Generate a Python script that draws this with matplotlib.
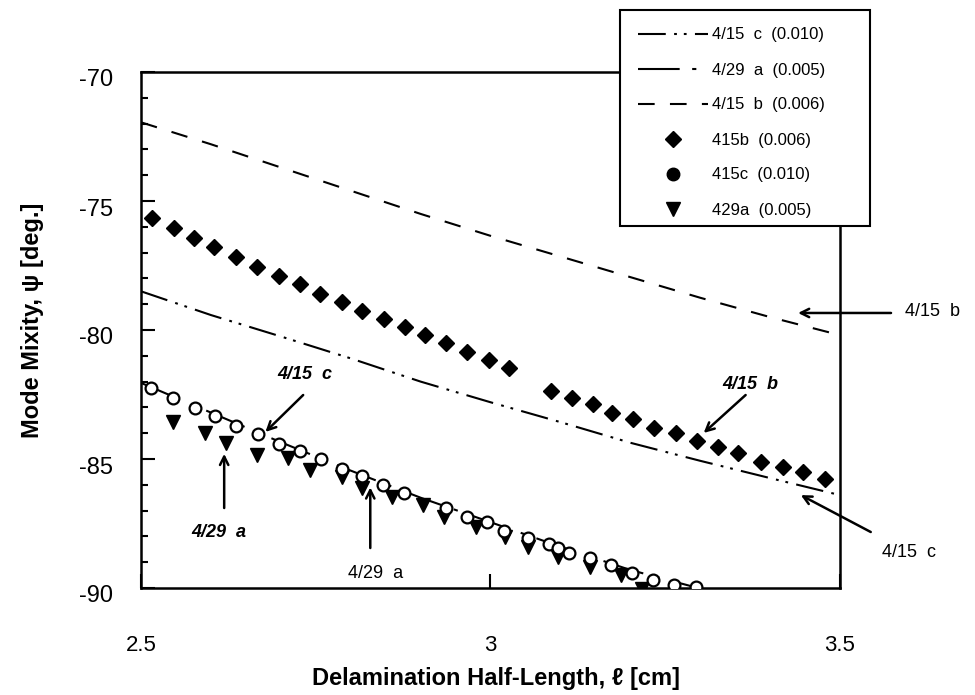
import matplotlib
matplotlib.use('Agg')
import matplotlib.pyplot as plt
from matplotlib.lines import Line2D
from matplotlib.patches import Rectangle
from matplotlib.ticker import MultipleLocator
import matplotlib.transforms as mtransforms

plt.rcParams['font.family'] = ['Liberation Sans', 'DejaVu Sans']
plt.rcParams['lines.scale_dashes'] = False

# ---------------- data ----------------
# model curves
model_x = [2.5, 2.6, 2.7, 2.8, 2.9, 3.0, 3.1, 3.2, 3.3, 3.4, 3.5]
model_415b = [-71.95, -72.80, -73.70, -74.60, -75.50, -76.35, -77.15, -77.95, -78.75, -79.50, -80.20]
model_415c = [-78.50, -79.42, -80.25, -81.10, -82.00, -82.80, -83.57, -84.37, -85.07, -85.74, -86.40]
model_429a_x = [2.5, 2.6, 2.7, 2.8, 2.9, 3.0, 3.1, 3.2, 3.29]
model_429a = [-82.05, -83.20, -84.35, -85.45, -86.50, -87.45, -88.40, -89.30, -89.95]

# experiments
exp_415b_x = [2.516, 2.547, 2.576, 2.605, 2.636, 2.666, 2.697, 2.727, 2.756, 2.788, 2.816,
              2.847, 2.878, 2.907, 2.937, 2.967, 2.998, 3.026,
              3.087, 3.116, 3.146, 3.174, 3.204, 3.234, 3.265, 3.295, 3.325, 3.354,
              3.387, 3.418, 3.447, 3.478]
exp_415b_y = [-75.67, -76.06, -76.43, -76.79, -77.18, -77.57, -77.91, -78.23, -78.60, -78.93, -79.25,
              -79.59, -79.90, -80.19, -80.52, -80.86, -81.16, -81.46,
              -82.36, -82.65, -82.87, -83.23, -83.46, -83.79, -84.00, -84.29, -84.52, -84.78,
              -85.10, -85.30, -85.49, -85.79]

exp_415c_x = [2.514, 2.546, 2.577, 2.606, 2.636, 2.667, 2.698, 2.728, 2.758, 2.788, 2.816,
              2.846, 2.876, 2.936, 2.967, 2.995, 3.019, 3.053, 3.083, 3.096, 3.112,
              3.143, 3.172, 3.203, 3.233, 3.262, 3.294]
exp_415c_y = [-82.24, -82.65, -83.03, -83.33, -83.72, -84.04, -84.43, -84.69, -85.00, -85.40, -85.66,
              -86.01, -86.33, -86.91, -87.24, -87.43, -87.79, -88.06, -88.29, -88.45, -88.63,
              -88.84, -89.11, -89.41, -89.69, -89.88, -89.95]

exp_429a_x = [2.546, 2.592, 2.622, 2.666, 2.711, 2.742, 2.788, 2.816, 2.859, 2.904, 2.933,
              2.979, 3.021, 3.053, 3.096, 3.143, 3.186, 3.217]
exp_429a_y = [-83.55, -83.98, -84.37, -84.84, -84.97, -85.43, -85.69, -86.14, -86.46, -86.78, -87.24,
              -87.62, -88.01, -88.40, -88.79, -89.17, -89.50, -90.02]

xtick_vals = [2.5, 3.0, 3.5]
xtick_labels = ['2.5', '3', '3.5']
ytick_vals = [-90, -85, -80, -75, -70]
ytick_labels = ['-90', '-85', '-80', '-75', '-70']

legend_labels = ['4/15  c  (0.010)', '4/29  a  (0.005)', '4/15  b  (0.006)',
                 '415b  (0.006)', '415c  (0.010)', '429a  (0.005)']

# ---------------- figure ----------------
W, H = 975, 695
fig = plt.figure(figsize=(W / 100, H / 100), dpi=100)
ax = fig.add_axes([141 / W, 1 - 588 / H, 699 / W, 516 / H])

ls_415c = (0, (20, 6, 2, 5, 2, 6))
ls_429a = (0, (30, 9, 3, 9))
ls_415b = (0, (12, 11))

ax.plot(model_x, model_415b, color='black', lw=1.5, linestyle=ls_415b, zorder=2)
ax.plot(model_x, model_415c, color='black', lw=1.5, linestyle=ls_415c, zorder=2)
ax.plot(model_429a_x, model_429a, color='black', lw=1.5, linestyle=ls_429a, zorder=2)

ax.plot(exp_415b_x, exp_415b_y, linestyle='none', marker='D', ms=8.5, color='black', zorder=3)
ax.plot(exp_429a_x, exp_429a_y, linestyle='none', marker='v', ms=10, color='black', zorder=3)
ax.plot(exp_415c_x, exp_415c_y, linestyle='none', marker='o', ms=8.5, mfc='white',
        mec='black', mew=1.6, zorder=4)

ax.set_xlim(2.5, 3.5)
ax.set_ylim(-90, -70)
ax.set_xticks(xtick_vals, xtick_labels)
ax.set_yticks(ytick_vals, ytick_labels)
ax.yaxis.set_minor_locator(MultipleLocator(1))
ax.tick_params(axis='both', which='both', direction='in', top=False, right=False,
               width=1.5)
ax.tick_params(axis='y', which='major', length=10, pad=20, labelsize=17)
ax.tick_params(axis='y', which='minor', length=5)
ax.tick_params(axis='x', which='major', length=10, pad=34, labelsize=16)
for sp in ax.spines.values():
    sp.set_linewidth(1.8)

off = mtransforms.ScaledTranslation(0, -0.06, fig.dpi_scale_trans)
for lab in ax.get_yticklabels():
    lab.set_transform(lab.get_transform() + off)

fig.text(33 / W, 1 - 320 / H, 'Mode Mixity, \u03c8 [deg.]', rotation=90,
         ha='center', va='center', fontsize=17, fontweight='bold')
fig.text(496 / W, 1 - 678 / H, 'Delamination Half-Length, \u2113 [cm]',
         ha='center', va='center', fontsize=17, fontweight='bold')

# annotations
arrow = dict(arrowstyle='->,head_length=0.6,head_width=0.3', lw=1.8, color='black',
             shrinkA=0, shrinkB=0)

def note(text, txy, tail, tip, italic):
    kw = dict(fontsize=13, ha='center', va='center')
    if italic:
        kw.update(fontstyle='italic', fontweight='bold')
    ax.text(txy[0], txy[1], text, clip_on=False, **kw)
    ax.annotate('', xy=tip, xytext=tail, arrowprops=arrow, annotation_clip=False)

note('4/15  c', (2.735, -81.74), (2.732, -82.52), (2.678, -83.95), True)
note('4/29  a', (2.612, -87.83), (2.619, -86.90), (2.619, -84.80), True)
note('4/29  a', (2.835, -89.42), (2.828, -88.45), (2.828, -86.10), False)
note('4/15  b', (3.372, -82.13), (3.365, -82.52), (3.305, -83.99), True)
note('4/15  b', (3.633, -79.30), (3.573, -79.34), (3.440, -79.34), False)
note('4/15  c', (3.599, -88.64), (3.544, -87.83), (3.444, -86.40), False)

# legend box (drawn separately so its height matches the original)
box = Rectangle((620 / W, 1 - 226 / H), 250 / W, 216 / H, transform=fig.transFigure,
                facecolor='white', edgecolor='black', lw=1.5, zorder=9)
fig.add_artist(box)

handles = [
    Line2D([], [], color='black', lw=1.5, linestyle=ls_415c),
    Line2D([], [], color='black', lw=1.5, linestyle=ls_429a),
    Line2D([], [], color='black', lw=1.5, linestyle=ls_415b),
    Line2D([], [], color='black', linestyle='none', marker='D', ms=8.5),
    Line2D([], [], color='black', linestyle='none', marker='o', ms=9),
    Line2D([], [], color='black', linestyle='none', marker='v', ms=10),
]
leg = fig.legend(handles, legend_labels, loc='upper left',
                 bbox_to_anchor=(620 / W, 1 - 10 / H, 250 / W, 0.0), mode='expand',
                 borderaxespad=0, fontsize=12, handlelength=4.2, handletextpad=0.3,
                 labelspacing=1.2, borderpad=1.05, frameon=False, numpoints=1)
leg.set_zorder(10)

fig.savefig('out.png', dpi=100)
